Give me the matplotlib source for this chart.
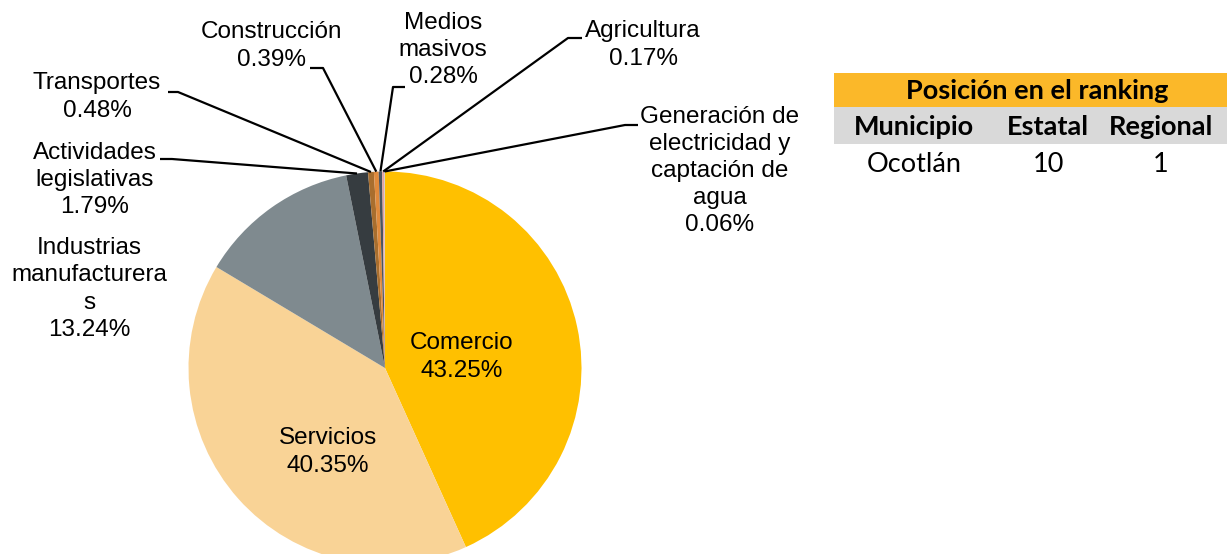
import matplotlib
matplotlib.use("Agg")
import matplotlib.pyplot as plt
from matplotlib.patches import Rectangle
import numpy as np

# Data
sectors = ["Comercio", "Servicios", "Industrias\nmanufacturera\ns",
           "Actividades\nlegislativas", "Transportes", "Construcción",
           "Medios\nmasivos", "Agricultura",
           "Generación de\nelectricidad y\ncaptación de\nagua"]
shares = [43.25, 40.35, 13.24, 1.79, 0.48, 0.39, 0.28, 0.17, 0.06]
colors = ["#FFC000", "#F9D396", "#7F8A8F", "#363C40", "#A86E2E",
          "#E08A3C", "#4A5560", "#E6A3A0", "#C8C8C8"]

rank_header = "Posición en el ranking"
rank_cols = ["Municipio", "Estatal", "Regional"]
rank_vals = ["Ocotlán", "10", "1"]

W, H = 1227, 554
plt.rcParams['font.family'] = ['Liberation Sans', 'DejaVu Sans']

fig = plt.figure(figsize=(W / 100, H / 100), dpi=100)
ax = fig.add_axes([0, 0, 1, 1])

def Y(y):  # image rows -> data y
    return H - y

cx, cy, R = 385, Y(368), 196.5
wedges, _ = ax.pie(shares, colors=colors, startangle=90, counterclock=False,
                   center=(cx, cy), radius=R, wedgeprops=dict(linewidth=0))
ax.set_xlim(0, W)
ax.set_ylim(0, H)
ax.set_aspect('equal')
ax.axis('off')

# label block centre (x, y) and leader elbow (x_text_side, x_line_side, y); None -> inside
label_pos = [(462, 357), (328, 452), (89, 289), (95, 180), (97, 97),
             (272, 46), (443, 50), (643, 45), (720, 171)]
elbows = [None, None, None, (160, 172, 159), (168, 178, 92),
          (310, 323, 68), (405, 393, 87), (582, 568, 38), (638, 625, 125)]

fs = 17.5
for w, name, val, (lx, ly), el in zip(wedges, sectors, shares, label_pos, elbows):
    ax.text(lx, Y(ly), f"{name}\n{val:.2f}%", ha="center", va="center",
            multialignment="center", fontsize=fs, linespacing=1.3, color="#000000")
    if el is None:
        continue
    ang = np.deg2rad((w.theta1 + w.theta2) / 2)
    px, py = cx + R * np.cos(ang), cy + R * np.sin(ang)
    ax.plot([el[0], el[1], px], [Y(el[2]), Y(el[2]), py], color="black",
            lw=1.6, solid_capstyle="butt", clip_on=False)

# ranking table
tfont = ['Lato', 'DejaVu Sans']
ax.add_patch(Rectangle((834, Y(107)), W - 834, 34, color="#FBB829", lw=0))
ax.add_patch(Rectangle((834, Y(144)), W - 834, 37, color="#D9D9D9", lw=0))
ax.text(1037, Y(91), rank_header, ha="center", va="center", fontsize=19.5,
        fontweight="bold", family=tfont)
for x, c, v in zip([914, 1048, 1161], rank_cols, rank_vals):
    ax.text(x, Y(127), c, ha="center", va="center", fontsize=19.5,
            fontweight="bold", family=tfont)
    ax.text(x, Y(164), v, ha="center", va="center", fontsize=19.5, family=tfont)

fig.savefig("out.png", dpi=100)
